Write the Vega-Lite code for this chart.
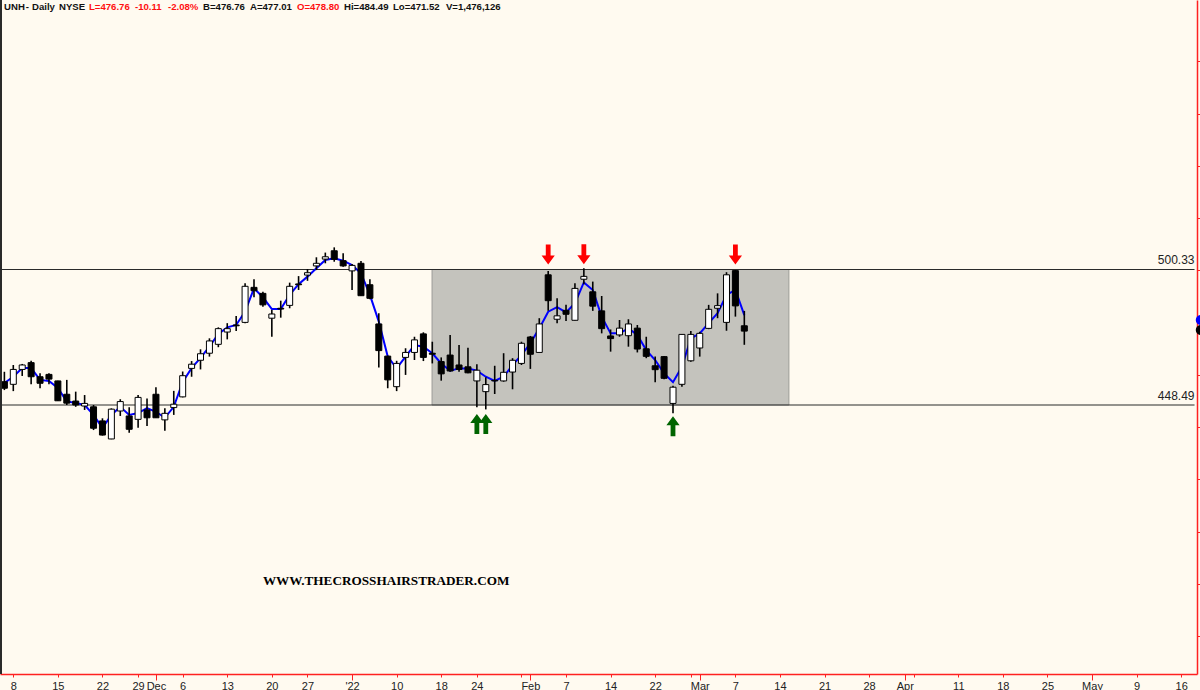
{"$schema":"https://vega.github.io/schema/vega-lite/v6.json","width":1197,"height":674,"autosize":{"type":"none"},"padding":{"left":0,"top":0,"right":3,"bottom":16},"background":"#FFFAF0","config":{"view":{"stroke":null},"axis":{"grid":false}},
"datasets":{"candles":[
{"i":-1,"o":457.4,"h":461.2,"l":454.2,"c":454.9,"ma":456.9},{"i":0,"o":456.4,"h":463.8,"l":453.8,"c":462.1,"ma":459.3},{"i":1,"o":462.1,"h":464.2,"l":459.6,"c":463.8,"ma":462.6},{"i":2,"o":464.7,"h":465.4,"l":456.4,"c":459.3,"ma":462.6},{"i":3,"o":459.3,"h":460.6,"l":454.9,"c":456.8,"ma":458.1},{"i":4,"o":460.2,"h":460.6,"l":456.4,"c":458.4,"ma":457.7},{"i":5,"o":457.7,"h":457.8,"l":450.0,"c":450.1,"ma":455.0},{"i":6,"o":452.6,"h":458.1,"l":448.5,"c":449.2,"ma":449.8},{"i":7,"o":450.0,"h":453.6,"l":447.8,"c":448.5,"ma":449.3},{"i":8,"o":448.1,"h":452.3,"l":446.6,"c":449.1,"ma":448.5},
{"i":9,"o":447.8,"h":448.5,"l":438.9,"c":439.6,"ma":444.7},{"i":10,"o":442.4,"h":443.4,"l":436.8,"c":437.0,"ma":439.7},{"i":11,"o":435.5,"h":447.2,"l":435.4,"c":446.9,"ma":444.7},{"i":12,"o":446.2,"h":450.7,"l":444.3,"c":449.8,"ma":447.8},{"i":13,"o":444.3,"h":447.6,"l":437.9,"c":439.2,"ma":444.7},{"i":14,"o":443.0,"h":452.3,"l":439.8,"c":451.4,"ma":445.4},{"i":15,"o":446.6,"h":451.0,"l":440.5,"c":443.6,"ma":447.3},{"i":16,"o":452.6,"h":455.3,"l":443.6,"c":443.6,"ma":445.9},{"i":17,"o":442.8,"h":447.2,"l":438.6,"c":445.3,"ma":443.6},{"i":18,"o":447.5,"h":453.9,"l":444.7,"c":448.8,"ma":447.8},
{"i":19,"o":451.6,"h":461.3,"l":451.4,"c":459.7,"ma":457.3},{"i":20,"o":462.5,"h":465.3,"l":459.3,"c":464.1,"ma":462.6},{"i":21,"o":465.6,"h":469.8,"l":462.1,"c":468.1,"ma":466.5},{"i":22,"o":468.3,"h":474.0,"l":467.0,"c":473.0,"ma":470.8},{"i":23,"o":471.7,"h":478.2,"l":470.6,"c":477.7,"ma":475.7},{"i":24,"o":476.4,"h":479.8,"l":473.6,"c":477.7,"ma":478.2},{"i":25,"o":479.1,"h":482.5,"l":476.8,"c":478.8,"ma":479.1},{"i":26,"o":480.1,"h":495.1,"l":479.8,"c":493.9,"ma":484.2},{"i":27,"o":493.5,"h":496.6,"l":489.7,"c":492.2,"ma":493.1},{"i":28,"o":491.2,"h":491.8,"l":486.1,"c":486.8,"ma":489.7},
{"i":29,"o":481.7,"h":484.8,"l":474.6,"c":483.3,"ma":485.2},{"i":30,"o":485.5,"h":488.4,"l":481.9,"c":485.2,"ma":485.2},{"i":31,"o":486.6,"h":495.3,"l":485.5,"c":493.9,"ma":490.6},{"i":32,"o":494.8,"h":497.8,"l":492.5,"c":494.5,"ma":494.7},{"i":33,"o":498.2,"h":500.5,"l":496.0,"c":499.1,"ma":497.6},{"i":34,"o":501.7,"h":505.0,"l":500.1,"c":502.7,"ma":500.8},{"i":35,"o":504.3,"h":506.8,"l":502.7,"c":505.2,"ma":504.0},{"i":36,"o":507.5,"h":508.8,"l":503.3,"c":504.2,"ma":504.6},{"i":37,"o":503.7,"h":506.5,"l":501.4,"c":501.7,"ma":503.7},{"i":38,"o":499.8,"h":502.4,"l":492.5,"c":501.9,"ma":502.0},
{"i":39,"o":502.7,"h":503.6,"l":490.3,"c":490.3,"ma":498.9},{"i":40,"o":494.5,"h":496.6,"l":488.9,"c":489.3,"ma":490.6},{"i":41,"o":479.5,"h":483.6,"l":462.8,"c":469.3,"ma":480.4},{"i":42,"o":467.2,"h":467.4,"l":454.9,"c":458.1,"ma":467.0},{"i":43,"o":455.5,"h":465.4,"l":453.8,"c":464.4,"ma":462.5},{"i":44,"o":466.7,"h":470.2,"l":460.0,"c":468.6,"ma":467.0},{"i":45,"o":468.6,"h":474.6,"l":465.7,"c":473.4,"ma":471.4},{"i":46,"o":475.7,"h":476.3,"l":465.3,"c":466.7,"ma":470.8},{"i":47,"o":468.3,"h":472.7,"l":464.4,"c":467.9,"ma":468.3},{"i":48,"o":465.1,"h":466.7,"l":457.8,"c":460.4,"ma":464.4},
{"i":49,"o":467.6,"h":475.3,"l":461.2,"c":461.5,"ma":461.6},{"i":50,"o":463.8,"h":471.4,"l":461.2,"c":462.1,"ma":462.5},{"i":51,"o":463.1,"h":470.4,"l":460.6,"c":460.8,"ma":462.5},{"i":52,"o":457.7,"h":464.1,"l":447.6,"c":461.8,"ma":461.6},{"i":53,"o":453.6,"h":459.1,"l":446.8,"c":456.3,"ma":459.3},{"i":54,"o":457.9,"h":463.5,"l":452.7,"c":457.7,"ma":457.7},{"i":55,"o":457.7,"h":468.3,"l":457.4,"c":461.0,"ma":459.3},{"i":56,"o":461.1,"h":466.4,"l":454.5,"c":465.6,"ma":463.8},{"i":57,"o":464.4,"h":472.7,"l":463.8,"c":472.1,"ma":467.6},{"i":58,"o":474.5,"h":474.9,"l":462.3,"c":467.9,"ma":472.1},
{"i":59,"o":468.6,"h":481.7,"l":468.6,"c":479.5,"ma":477.8},{"i":60,"o":498.3,"h":499.8,"l":484.5,"c":488.4,"ma":484.2},{"i":61,"o":481.3,"h":489.3,"l":479.8,"c":482.6,"ma":485.9},{"i":62,"o":484.7,"h":486.8,"l":480.6,"c":483.2,"ma":483.9},{"i":63,"o":480.9,"h":495.1,"l":480.8,"c":493.1,"ma":487.4},{"i":64,"o":496.6,"h":500.8,"l":494.7,"c":497.7,"ma":495.4},{"i":65,"o":491.8,"h":495.7,"l":484.5,"c":486.3,"ma":492.5},{"i":66,"o":484.5,"h":490.2,"l":475.9,"c":477.7,"ma":482.3},{"i":67,"o":474.9,"h":477.4,"l":468.9,"c":473.9,"ma":475.9},{"i":68,"o":475.3,"h":481.0,"l":474.6,"c":477.9,"ma":475.9},
{"i":69,"o":475.0,"h":481.3,"l":470.8,"c":479.5,"ma":477.8},{"i":70,"o":477.9,"h":479.1,"l":468.6,"c":469.9,"ma":475.3},{"i":71,"o":470.0,"h":474.6,"l":466.4,"c":467.1,"ma":469.5},{"i":72,"o":463.5,"h":467.0,"l":457.2,"c":462.0,"ma":465.7},{"i":73,"o":467.0,"h":467.2,"l":458.3,"c":458.7,"ma":460.6},{"i":74,"o":449.1,"h":455.9,"l":445.3,"c":455.3,"ma":457.2},{"i":75,"o":456.4,"h":475.7,"l":455.5,"c":475.5,"ma":463.1},{"i":76,"o":465.4,"h":476.8,"l":465.0,"c":475.5,"ma":474.0},{"i":77,"o":470.3,"h":476.5,"l":467.0,"c":475.9,"ma":475.9},{"i":78,"o":477.8,"h":486.8,"l":477.5,"c":485.1,"ma":479.8},
{"i":79,"o":485.5,"h":491.2,"l":481.7,"c":486.5,"ma":483.6},{"i":80,"o":480.1,"h":499.3,"l":476.9,"c":498.3,"ma":490.6},{"i":81,"o":499.9,"h":500.1,"l":482.3,"c":486.4,"ma":492.5},{"i":82,"o":478.8,"h":484.49,"l":471.52,"c":476.76,"ma":482.9}
]},
"encoding":{"x":{"field":"i","type":"quantitative","title":null,"scale":{"domain":[-1.4919,132.778],"nice":false,"zero":false,"padding":0},"axis":{"values":[0,5,10,14,16,19,24,29,33,38,43,48,52,57,58,62,67,72,76,77,81,86,91,96,100,101,106,111,116,121,126,131],"labelExpr":"({'0':'8','5':'15','10':'22','14':'29','16':'Dec','19':'6','24':'13','29':'20','33':'27','38':\"'22\",'43':'10','48':'18','52':'24','57':'','58':'Feb','62':'7','67':'14','72':'22','76':'','77':'Mar','81':'7','86':'14','91':'21','96':'28','100':'Apr','101':'','106':'11','111':'18','116':'25','121':'May','126':'9','131':'16'})[''+datum.value]","grid":false,"domainColor":"#FF2020","domainWidth":1.5,"tickColor":"#FF2020","tickWidth":1,"tickSize":{"condition":{"test":"indexof([16,38,58,77,100,121],datum.value)>=0","value":6},"value":3},"labelPadding":{"condition":{"test":"indexof([16,38,58,77,100,121],datum.value)>=0","value":0},"value":3},"labelColor":"#222222","labelFont":"Liberation Sans","labelFontSize":11,"labelOverlap":false,"labelFlush":false}}},
"layer":[
{"data":{"values":[{"i":46.97,"i2":87.0,"price":500.33,"price2":448.49}]},"mark":{"type":"rect","fill":"#C4C3BD","stroke":"#9C9C98","strokeWidth":1},"encoding":{"x2":{"field":"i2"},"y":{"field":"price","type":"quantitative","title":null,"scale":{"domain":[345.58,603.43],"nice":false,"zero":false,"padding":0},"axis":{"values":[360,380,400,420,440,460,480,500,520,540,560,580],"orient":"right","labels":false,"grid":false,"title":null,"domainColor":"#FF2020","domainWidth":1.5,"tickColor":"#FF2020","tickWidth":1,"tickSize":5}},"y2":{"field":"price2"}}},
{"data":{"values":[{"i":-1.49,"i2":132.5,"price":500.33},{"i":-1.49,"i2":132.5,"price":448.49}]},"mark":{"type":"rule","color":"#2A2A2A","strokeWidth":1.2},"encoding":{"x2":{"field":"i2"},"y":{"field":"price","type":"quantitative","title":null,"scale":{"domain":[345.58,603.43],"nice":false,"zero":false,"padding":0}}}},
{"data":{"values":[{"i":132.5,"price":500.33,"label":"500.33"},{"i":132.5,"price":448.49,"label":"448.49"}]},"mark":{"type":"text","align":"right","baseline":"bottom","dy":-2,"font":"Liberation Sans","fontSize":12,"color":"#222222"},"encoding":{"y":{"field":"price","type":"quantitative","title":null,"scale":{"domain":[345.58,603.43],"nice":false,"zero":false,"padding":0}},"text":{"field":"label"}}},
{"data":{"name":"candles"},"mark":{"type":"line","color":"#0000FF","strokeWidth":2},"encoding":{"y":{"field":"ma","type":"quantitative","title":null,"scale":{"domain":[345.58,603.43],"nice":false,"zero":false,"padding":0}}}},
{"data":{"name":"candles"},"mark":{"type":"rule","color":"#000000","strokeWidth":1.6},"encoding":{"y":{"field":"l","type":"quantitative","title":null,"scale":{"domain":[345.58,603.43],"nice":false,"zero":false,"padding":0}},"y2":{"field":"h"}}},
{"data":{"name":"candles"},"mark":{"type":"bar","size":6,"stroke":"#000000","strokeWidth":1,"orient":"vertical"},"encoding":{"y":{"field":"o","type":"quantitative","title":null,"scale":{"domain":[345.58,603.43],"nice":false,"zero":false,"padding":0}},"y2":{"field":"c"},"fill":{"condition":{"test":"datum.c>datum.o","value":"#FFFFFF"},"value":"#000000"}}},
{"data":{"values":[{"i":60,"price":506.07},{"i":64,"price":506.2},{"i":81,"price":506.07}]},"mark":{"type":"point","filled":true,"opacity":1,"size":400,"color":"#FF0000","strokeWidth":0,"shape":"M0,1 L0.66,0.1 L0.24,0.1 L0.24,-1 L-0.24,-1 L-0.24,0.1 L-0.66,0.1 Z"},"encoding":{"y":{"field":"price","type":"quantitative","title":null,"scale":{"domain":[345.58,603.43],"nice":false,"zero":false,"padding":0}}}},
{"data":{"values":[{"i":52,"price":441.2},{"i":53,"price":441.2},{"i":74,"price":440.4}]},"mark":{"type":"point","filled":true,"opacity":1,"size":400,"color":"#006400","strokeWidth":0,"shape":"M0,-1 L0.66,-0.1 L0.24,-0.1 L0.24,1 L-0.24,1 L-0.24,-0.1 L-0.66,-0.1 Z"},"encoding":{"y":{"field":"price","type":"quantitative","title":null,"scale":{"domain":[345.58,603.43],"nice":false,"zero":false,"padding":0}}}},
{"data":{"values":[{"i":28.0,"price":381.2,"t":"WWW.THECROSSHAIRSTRADER.COM"}]},"mark":{"type":"text","align":"left","baseline":"middle","font":"Liberation Serif","fontWeight":"bold","fontSize":13.2,"color":"#000000"},"encoding":{"y":{"field":"price","type":"quantitative","title":null,"scale":{"domain":[345.58,603.43],"nice":false,"zero":false,"padding":0}},"text":{"field":"t"}}},
{"data":{"values":[{"i":-1.04,"price":600.75,"t":"UNH","k":"a"},{"i":1.4,"price":600.75,"t":"-","k":"a"},{"i":2.1,"price":600.75,"t":"Daily","k":"a"},{"i":5.13,"price":600.75,"t":"NYSE","k":"a"},{"i":8.49,"price":600.75,"t":"L=476.76","k":"b"},{"i":13.65,"price":600.75,"t":"-10.11","k":"b"},{"i":17.35,"price":600.75,"t":"-2.08%","k":"b"},{"i":21.28,"price":600.75,"t":"B=476.76","k":"a"},{"i":26.55,"price":600.75,"t":"A=477.01","k":"a"},{"i":31.82,"price":600.75,"t":"O=478.80","k":"b"},{"i":37.09,"price":600.75,"t":"Hi=484.49","k":"a"},{"i":42.59,"price":600.75,"t":"Lo=471.52","k":"a"},{"i":48.53,"price":600.75,"t":"V=1,476,126","k":"a"}]},"mark":{"type":"text","align":"left","baseline":"middle","font":"Liberation Sans","fontWeight":"bold","fontSize":9.6},"encoding":{"y":{"field":"price","type":"quantitative","title":null,"scale":{"domain":[345.58,603.43],"nice":false,"zero":false,"padding":0}},"text":{"field":"t"},"color":{"field":"k","type":"nominal","legend":null,"scale":{"domain":["a","b"],"range":["#111111","#FF1010"]}}}},
{"data":{"values":[{"i":-1.4919}]},"mark":{"type":"rule","color":"#2A2A2A","strokeWidth":4}},
{"data":{"values":[{"i":133.2,"price":481.0,"k":"a"},{"i":133.2,"price":477.2,"k":"b"}]},"mark":{"type":"point","filled":true,"opacity":1,"size":100,"strokeWidth":0,"clip":false},"encoding":{"y":{"field":"price","type":"quantitative","title":null,"scale":{"domain":[345.58,603.43],"nice":false,"zero":false,"padding":0}},"fill":{"field":"k","type":"nominal","legend":null,"scale":{"domain":["a","b"],"range":["#0000FF","#000000"]}}}}
]}
